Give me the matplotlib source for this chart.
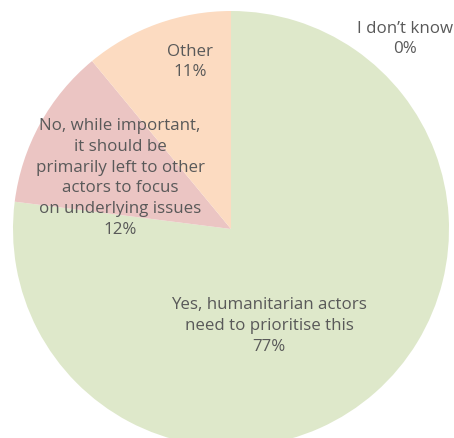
import matplotlib.pyplot as plt

# Survey answers, clockwise from the top of the pie
answers = ["Yes, humanitarian actors\nneed to prioritise this",
           "No, while important,\nit should be\nprimarily left to other\nactors to focus\non underlying issues",
           "Other",
           "I don\u2019t know"]
shares = [77, 12, 11, 0]
colors = ["#dee8ca", "#ebc5c3", "#fcdbc1", "#dcdcdc"]

# where each label block sits (pixels, measured from the top-left)
label_pos = [(269, 326), (120, 178), (190, 62), (405, 39)]

W, H = 454, 439
fig = plt.figure(figsize=(W / 100, H / 100), dpi=100)
ax = fig.add_axes([0, 0, 1, 1])

ax.pie(shares, colors=colors, startangle=90, counterclock=False,
       center=(231, H - 230), radius=218, frame=True,
       wedgeprops=dict(linewidth=0))
ax.set_xlim(0, W)
ax.set_ylim(0, H)
ax.set_aspect("equal")
ax.axis("off")

for name, value, (x, y) in zip(answers, shares, label_pos):
    ax.text(x, H - y, f"{name}\n{value}%", ha="center", va="center",
            fontsize=12.2, color="#595959", family="Open Sans",
            linespacing=1.4, clip_on=False)

fig.savefig("out.png", dpi=100)
